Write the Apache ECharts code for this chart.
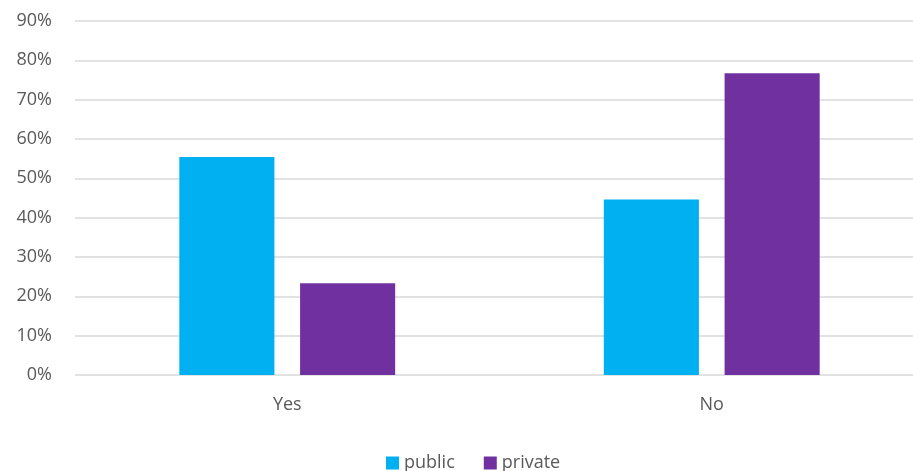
<!DOCTYPE html>
<html>
<head>
<meta charset="utf-8">
<script src="https://cdn.jsdelivr.net/npm/echarts@6/dist/echarts.min.js"></script>
<style>
html, body { margin: 0; padding: 0; background: #fff; }
#main { width: 913px; height: 471px; }
</style>
</head>
<body>
<div id="main"></div>
<script>
var categories = ['Yes', 'No'];
var publicValues = [55.4, 44.6];
var privateValues = [23.3, 76.7];
var yTicks = [0, 90, 10]; // min, max, step

var chart = echarts.init(document.getElementById('main'));
var font = '"Open Sans", sans-serif';
var option = {
    animation: false,
    grid: {
        left: 75,
        width: 849,
        top: 21,
        bottom: 96,
        outerBoundsMode: 'none'
    },
    legend: {
        top: 449,
        left: 381,
        itemWidth: 13,
        itemHeight: 13,
        itemGap: 29,
        icon: 'rect',
        textStyle: { color: '#595959', fontSize: 18, fontFamily: font },
        data: ['public', 'private']
    },
    xAxis: {
        type: 'category',
        data: categories,
        axisLine: { show: false },
        axisTick: { show: false },
        axisLabel: { color: '#595959', fontSize: 18, fontFamily: font, margin: 21 }
    },
    yAxis: {
        type: 'value',
        min: yTicks[0],
        max: yTicks[1],
        interval: yTicks[2],
        axisLine: { show: false },
        axisTick: { show: false },
        axisLabel: {
            formatter: '{value}%',
            color: '#595959',
            fontSize: 18,
            fontFamily: font,
            margin: 23
        },
        splitLine: { lineStyle: { color: '#d9d9d9', width: 1.5 } }
    },
    series: [{
        name: 'public',
        type: 'bar',
        data: publicValues,
        barWidth: '22.4%',
        barGap: '27%',
        itemStyle: { color: '#00b0f0' }
    }, {
        name: 'private',
        type: 'bar',
        data: privateValues,
        barWidth: '22.4%',
        itemStyle: { color: '#7030a0' }
    }]
};
chart.setOption(option);
</script>
</body>
</html>
